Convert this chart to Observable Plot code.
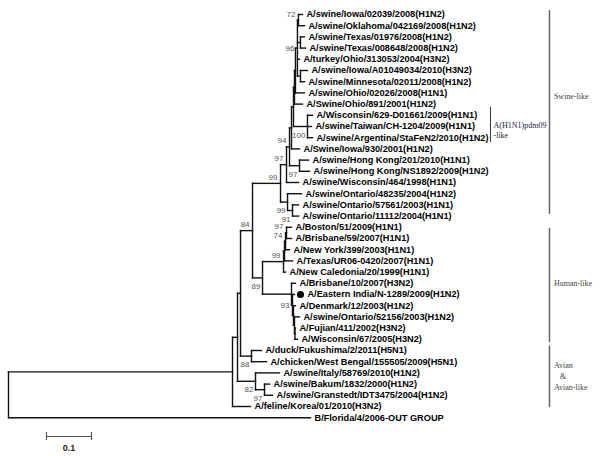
<!DOCTYPE html>
<html>
<head>
<meta charset="utf-8">
<script src="https://cdn.jsdelivr.net/npm/d3@7"></script>
<script src="https://cdn.jsdelivr.net/npm/@observablehq/plot@0.6"></script>
<style>
  html, body { margin: 0; padding: 0; background: #fff; }
  #chart svg { display: block; }
</style>
</head>
<body>
<div id="chart"></div>
<script>
// ---------- DATA ----------
// Taxa (tip labels), top to bottom
const taxa = [
  "A/swine/Iowa/02039/2008(H1N2)",
  "A/swine/Oklahoma/042169/2008(H1N2)",
  "A/swine/Texas/01976/2008(H1N2)",
  "A/swine/Texas/008648/2008(H1N2)",
  "A/turkey/Ohio/313053/2004(H3N2)",
  "A/swine/Iowa/A01049034/2010(H3N2)",
  "A/swine/Minnesota/02011/2008(H1N2)",
  "A/swine/Ohio/02026/2008(H1N1)",
  "A/Swine/Ohio/891/2001(H1N2)",
  "A/Wisconsin/629-D01661/2009(H1N1)",
  "A/swine/Taiwan/CH-1204/2009(H1N1)",
  "A/swine/Argentina/StaFeN2/2010(H1N2)",
  "A/Swine/Iowa/930/2001(H1N2)",
  "A/swine/Hong Kong/201/2010(H1N1)",
  "A/swine/Hong Kong/NS1892/2009(H1N2)",
  "A/swine/Wisconsin/464/1998(H1N1)",
  "A/swine/Ontario/48235/2004(H1N2)",
  "A/swine/Ontario/57561/2003(H1N1)",
  "A/swine/Ontario/11112/2004(H1N1)",
  "A/Boston/51/2009(H1N1)",
  "A/Brisbane/59/2007(H1N1)",
  "A/New York/399/2003(H1N1)",
  "A/Texas/UR06-0420/2007(H1N1)",
  "A/New Caledonia/20/1999(H1N1)",
  "A/Brisbane/10/2007(H3N2)",
  "A/Eastern India/N-1289/2009(H1N2)",
  "A/Denmark/12/2003(H1N2)",
  "A/swine/Ontario/52156/2003(H1N2)",
  "A/Fujian/411/2002(H3N2)",
  "A/Wisconsin/67/2005(H3N2)",
  "A/duck/Fukushima/2/2011(H5N1)",
  "A/chicken/West Bengal/155505/2009(H5N1)",
  "A/swine/Italy/58769/2010(H1N2)",
  "A/swine/Bakum/1832/2000(H1N2)",
  "A/swine/Granstedt/IDT3475/2004(H1N2)",
  "A/feline/Korea/01/2010(H3N2)",
  "B/Florida/4/2006-OUT GROUP"
];

// Tree topology + branch lengths (substitutions/site); leaves are indices into taxa,
// internal labels are bootstrap values.
const newick = `
(
 (
  (
   (
    (
     (
      (
       (
        (
         (
          (
           (
            (
             (0:0.0089,1:0.0133)72:0.0022,
             (2:0.0089,3:0.0111):0.0067,
             4:0.0044,
             (5:0.0156,6:0.0089):0.0067
            )96:0.0044,
            7:0.0200
           ):0.0022,
           8:0.0178
          ):0.0022,
          (9:0.0111,10:0.0089,11:0.0111)100:0.0311
         ):0.0044,
         12:0.0178
        ):0.0044,
        (13:0.0200,14:0.0222)97:0.0222
       )94:0.0067,
       15:0.0267
      )97:0.0133,
      (16:0.0311,(17:0.0133,18:0.0133)91:0.0111)99:0.0156
     )99:0.0622,
     (
      (
       (
        (
         (19:0.0111,20:0.0111)97:0.0022,
         21:0.0089
        )74:0.0022,
        22:0.0178
       ):0.0022,
       23:0.0044
      )99:0.0467,
      (
       24:0.0089,
       (
        25:0.0044,
        (
         26:0.0044,
         (27:0.0111,(28:0.0011,29:0.0056):0.0011):0.0022
        ):0.0022
       )93:0.0022
      ):0.0644
     )89:0.0222
    )84:0.0267,
    (30:0.0222,31:0.0333)88:0.0244
   ):0.0067,
   (32:0.0533,(33:0.0111,34:0.0178)97:0.0200)82:0.0400
  ):0.0111,
  35:0.0400
 ):0.4978,
 36:0.6711
);`;

// Bootstrap label side, in the order the values appear in the tree string
const supportSide = ["above","mid","below","below","above","above","below","below","above",
                     "above","above","above","mid","below","above","below","below","below"];

// Sequence of this study (marked with a dot)
const highlighted = [25];

// Clade brackets (in tip-index units)
const cladeNames = ["Swine-like", "Human-like", "Avian\n\u00a0\u00a0\u00a0&\nAvian-like"];
const cladeFrom = [-0.35, 19.1, 29.6];
const cladeTo = [17.85, 29.3, 35.1];
const cladeLabelAt = [7.2, 23.9, 32.2];

const subcladeNames = ["A(H1N1)pdm09\n-like"];
const subcladeFrom = [8.3];
const subcladeTo = [11.43];
const subcladeLabelAt = [10.27];

const scaleBarLength = 0.1;
const scaleBarLabel = "0.1";

// ---------- LAYOUT CONSTANTS ----------
const X_CLADE_BAR = 1.2022, X_CLADE_TEXT = 1.212;
const X_SUB_BAR = 1.0711, X_SUB_TEXT = 1.0778;
const SCALE_X0 = 0.0844, SCALE_Y = 37.68, SCALE_TEXT_Y = 38.7;

// ---------- PARSE ----------
function parseNewick(str) {
  const s = str.replace(/\s+/g, "");
  let i = 0;
  const supports = [];
  function node() {
    const n = {children: []};
    if (s[i] === "(") {
      i++;
      n.children.push(node());
      while (s[i] === ",") { i++; n.children.push(node()); }
      i++; // ')'
    }
    let label = "";
    while (i < s.length && !",():;".includes(s[i])) label += s[i++];
    n.label = label;
    if (n.children.length && label) supports.push(n);
    n.length = 0;
    if (s[i] === ":") {
      i++;
      let num = "";
      while (i < s.length && !",();".includes(s[i])) num += s[i++];
      n.length = +num;
    }
    return n;
  }
  const root = node();
  return {root, supports};
}

const {root, supports} = parseNewick(newick);
supports.forEach((n, k) => n.side = supportSide[k] || "above");

const hSegs = [], vSegs = [], tips = [];
function layout(n, depth, parent) {
  n.x = depth;
  if (n.children.length) {
    n.children.forEach(c => layout(c, depth + c.length, n));
    const first = n.children[0], last = n.children[n.children.length - 1];
    n.y = (first.y + last.y) / 2;
    vSegs.push({x: n.x, y1: first.y, y2: last.y});
  } else {
    const idx = +n.label;
    n.y = idx;
    tips.push({x: n.x, y: idx, name: taxa[idx], hi: highlighted.includes(idx)});
  }
  if (parent) hSegs.push({x1: parent.x, x2: n.x, y: n.y});
}
layout(root, 0, null);

const supportData = supports.map(n => ({x: n.x, y: n.y, label: n.label, side: n.side}));
const clades = cladeNames.map((name, k) => ({name, from: cladeFrom[k], to: cladeTo[k], at: cladeLabelAt[k]}));
const subclades = subcladeNames.map((name, k) => ({name, from: subcladeFrom[k], to: subcladeTo[k], at: subcladeLabelAt[k]}));

const SANS = "Liberation Sans, Arial, Helvetica, sans-serif";
const SERIF = "Liberation Serif, Times New Roman, serif";
const LINE = {stroke: "#111", strokeWidth: 1.4, strokeLinecap: "square"};

const chart = Plot.plot({
  width: 600,
  height: 456,
  marginLeft: 0, marginRight: 0, marginTop: 0, marginBottom: 0,
  x: {domain: [0, 1.3], range: [8, 593], axis: null},
  y: {domain: [0, 36], range: [14, 417.2], axis: null},
  style: {background: "#fff"},
  marks: [
    // tree branches
    Plot.link(hSegs, {x1: "x1", x2: "x2", y1: "y", y2: "y", ...LINE}),
    Plot.link(vSegs, {x1: "x", x2: "x", y1: "y1", y2: "y2", ...LINE}),
    // tip labels
    Plot.text(tips.filter(d => !d.hi), {x: "x", y: "y", text: "name", dx: 4, textAnchor: "start",
      fontFamily: SANS, fontWeight: "bold", fontSize: 9.2, fill: "#000"}),
    Plot.dot(tips.filter(d => d.hi), {x: "x", y: "y", r: 3.6, fill: "#000", stroke: "none", dx: 6}),
    Plot.text(tips.filter(d => d.hi), {x: "x", y: "y", text: "name", dx: 13, textAnchor: "start",
      fontFamily: SANS, fontWeight: "bold", fontSize: 9.2, fill: "#000"}),
    // bootstrap values
    Plot.text(supportData.filter(d => d.side === "above"), {x: "x", y: "y", text: "label", dx: -3, dy: -6,
      textAnchor: "end", fontFamily: SANS, fontSize: 8, fill: "#555"}),
    Plot.text(supportData.filter(d => d.side === "mid"), {x: "x", y: "y", text: "label", dx: -3, dy: 0,
      textAnchor: "end", fontFamily: SANS, fontSize: 8, fill: "#555"}),
    Plot.text(supportData.filter(d => d.side === "below"), {x: "x", y: "y", text: "label", dx: -2, dy: 8.5,
      textAnchor: "end", fontFamily: SANS, fontSize: 8, fill: "#555"}),
    // clade brackets
    Plot.ruleX(clades, {x: () => X_CLADE_BAR, y1: "from", y2: "to", stroke: "#666", strokeWidth: 1.5}),
    Plot.text(clades, {x: () => X_CLADE_TEXT, y: "at", text: "name", textAnchor: "start", lineHeight: 1.375,
      fontFamily: SERIF, fontSize: 8, fill: "#444"}),
    Plot.ruleX(subclades, {x: () => X_SUB_BAR, y1: "from", y2: "to", stroke: "#333", strokeWidth: 1}),
    Plot.text(subclades, {x: () => X_SUB_TEXT, y: "at", text: "name", textAnchor: "start", lineHeight: 1.25,
      fontFamily: SERIF, fontSize: 8, fill: "#1a1a3a"}),
    // scale bar
    Plot.link([scaleBarLength], {x1: () => SCALE_X0, x2: d => SCALE_X0 + d, y1: () => SCALE_Y, y2: () => SCALE_Y,
      stroke: "#555", strokeWidth: 1.2}),
    Plot.ruleX([0, scaleBarLength], {x: d => SCALE_X0 + d, y1: () => SCALE_Y - 0.36, y2: () => SCALE_Y + 0.36,
      stroke: "#555", strokeWidth: 1.2}),
    Plot.text([scaleBarLabel], {x: () => SCALE_X0 + scaleBarLength / 2, y: () => SCALE_TEXT_Y, text: d => d,
      fontFamily: SANS, fontWeight: "bold", fontSize: 9, fill: "#222"})
  ]
});
document.getElementById("chart").appendChild(chart);
</script>
</body>
</html>
